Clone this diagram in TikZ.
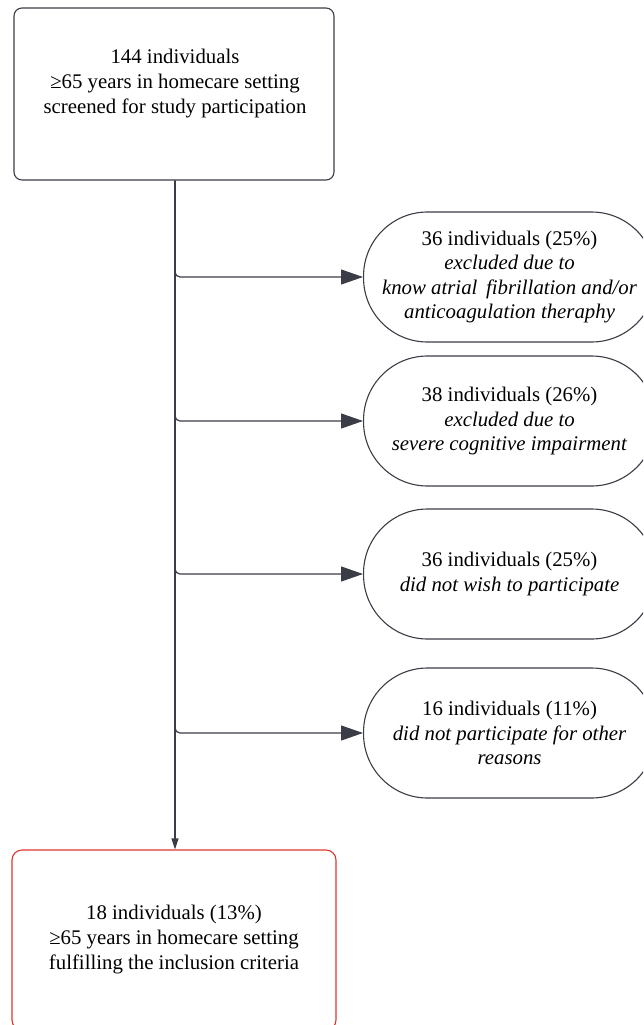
\documentclass[tikz,border=0pt]{standalone}
\usepackage{fontspec}
\setmainfont{Liberation Serif}
\usetikzlibrary{arrows.meta}
\definecolor{ln}{HTML}{3A3D46}
\definecolor{rd}{HTML}{E0342C}
\tikzset{
  box/.style={draw=ln, line width=1.1pt, rounded corners=8pt, minimum width=320pt, minimum height=172pt, inner sep=0pt},
  redbox/.style={draw=rd, line width=1.1pt, rounded corners=10pt, minimum width=324pt, minimum height=180pt, inner sep=0pt, align=center, font=\fontsize{20.8}{25}\selectfont},
  txt/.style={align=center, font=\fontsize{20.8}{25}\selectfont, inner sep=0pt},
  stad/.style={draw=ln, line width=1.1pt, rounded corners=64pt, minimum width=292pt, minimum height=130pt, inner sep=0pt, align=center, font=\fontsize{20.8}{24.5}\selectfont, anchor=west},
  conn/.style={draw=ln, line width=1.2pt},
  brarrow/.style={conn, rounded corners=5pt, -{Triangle[length=22pt,width=15pt]}},
  downarrow/.style={conn, -{Triangle[length=11pt,width=7pt]}},
}
\begin{document}
\begin{tikzpicture}[x=1pt,y=-1pt]
\useasboundingbox (0,0) rectangle (643,1025);
\clip (0,0) rectangle (643,1025);
\node[box] (top) at (174,94) {};
\node[txt] (toptext) at (175,84) {144 individuals\\ ≥65 years in homecare setting\\ screened for study participation};
\node[redbox] (bot) at (174,940) {18 individuals (13\%)\\ ≥65 years in homecare setting\\ fulfilling the inclusion criteria};
\node[stad] (e1) at (363,277) {36 individuals (25\%)\\ \textit{excluded due to}\\ \textit{know atrial\, fibrillation and/or}\\ \textit{anticoagulation theraphy}};
\node[stad] (e2) at (363,421) {38 individuals (26\%)\\ \textit{excluded due to}\\ \textit{severe cognitive impairment}};
\node[stad] (e3) at (363,574) {36 individuals (25\%)\\ \textit{did not wish to participate}};
\node[stad] (e4) at (363,733) {16 individuals (11\%)\\ \textit{did not participate for other}\\ \textit{reasons}};
\draw[downarrow] (top.south -| 175,0) -- (bot.north -| 175,0);
\draw[brarrow] (top.south -| 175,0) |- (e1.west);
\draw[brarrow] (top.south -| 175,0) |- (e2.west);
\draw[brarrow] (top.south -| 175,0) |- (e3.west);
\draw[brarrow] (top.south -| 175,0) |- (e4.west);
\end{tikzpicture}
\end{document}
